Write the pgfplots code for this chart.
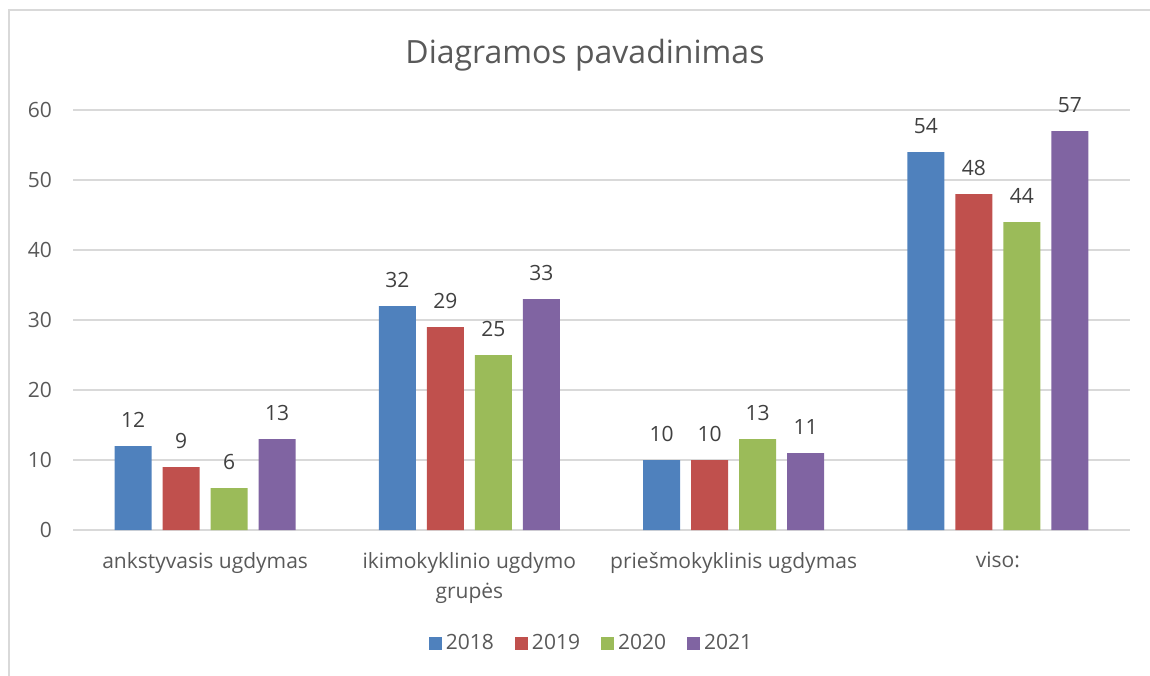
\documentclass[border=0pt]{standalone}
\usepackage{pgfplots}
\pgfplotsset{compat=1.18}
\usepackage{fontspec}
\setmainfont{Open Sans}
\definecolor{c1}{HTML}{4F81BD}
\definecolor{c2}{HTML}{C0504D}
\definecolor{c3}{HTML}{9BBB59}
\definecolor{c4}{HTML}{8064A2}
\definecolor{txt}{HTML}{595959}
\definecolor{lbl}{HTML}{404040}
\definecolor{grd}{HTML}{D9D9D9}
\begin{document}
\begin{tikzpicture}[x=0.5pt,y=0.5pt]
\useasboundingbox (0,0) rectangle (1150,675);
\draw[grd,line width=1pt] (9,-5) -- (9,665) -- (1160,665);
\node[txt,font=\fontsize{16}{20}\selectfont] at (585,620) {Diagramos pavadinimas};
\begin{axis}[
  at={(36.5pt,72.5pt)}, anchor=south west,
  scale only axis, width=528.5pt, height=210pt,
  xmin=-0.5, xmax=3.5, ymin=0, ymax=60,
  ytick={0,10,...,60},
  xtick={0,1,2,3},
  xticklabels={anksty\-vasis ugdymas, {ikimokyklinio ugdymo\\grupės}, priešmokyklinis ugdymas, viso:},
  axis line style={draw=none},
  major tick length=0pt,
  ymajorgrids, grid style={grd, line width=1pt},
  ybar=5.5pt, bar width=18.5pt,
  enlargelimits=false,
  tick label style={txt, font=\fontsize{10.5}{15}\selectfont},
  /pgf/number format/assume math mode=true,
  yticklabel style={xshift=-7pt},
  xticklabel style={align=center, yshift=-7.5pt},
  nodes near coords,
  nodes near coords style={lbl, font=\fontsize{10.5}{12}\selectfont, inner sep=0pt, anchor=south, yshift=9pt},
  every axis plot/.append style={draw=none},
  legend style={at={(0.4915,-0.27)}, anchor=center, draw=none, legend columns=4,
    font=\fontsize{10.5}{12}\selectfont, text=txt,
    /tikz/every even column/.append style={column sep=8.5pt}},
  legend image code/.code={\fill[#1] (0pt,-3.25pt) rectangle (6.5pt,3.25pt);},
]
\addplot[fill=c1] coordinates {(0,12) (1,32) (2,10) (3,54)};
\addplot[fill=c2] coordinates {(0,9) (1,29) (2,10) (3,48)};
\addplot[fill=c3] coordinates {(0,6) (1,25) (2,13) (3,44)};
\addplot[fill=c4] coordinates {(0,13) (1,33) (2,11) (3,57)};
\legend{2018,2019,2020,2021}
\end{axis}
\end{tikzpicture}
\end{document}
